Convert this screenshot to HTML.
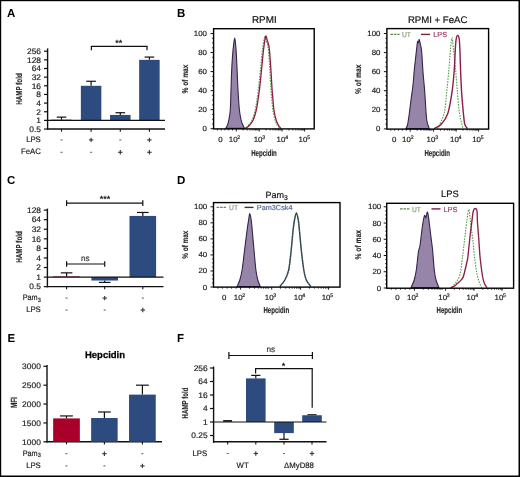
<!DOCTYPE html>
<html><head><meta charset="utf-8"><style>
html,body{margin:0;padding:0;background:#fff;}
svg{display:block;font-family:"Liberation Sans", sans-serif;will-change:transform;text-rendering:geometricPrecision;}
</style></head><body>
<svg width="520" height="477" viewBox="0 0 520 477">
<rect x="0" y="0" width="520" height="477" fill="#fff"/>
<rect x="0.00" y="0.00" width="520.00" height="1.20" fill="#000"/>
<rect x="0.00" y="0.00" width="1.20" height="477.00" fill="#000"/>
<rect x="518.50" y="0.00" width="1.50" height="477.00" fill="#000"/>
<rect x="0.00" y="475.50" width="520.00" height="1.50" fill="#000"/>
<text transform="translate(7.00,17.10)" font-size="11.5" text-anchor="start" font-weight="bold" fill="#000" >A</text>
<text transform="translate(177.00,17.10)" font-size="11.5" text-anchor="start" font-weight="bold" fill="#000" >B</text>
<text transform="translate(7.00,184.10)" font-size="11.5" text-anchor="start" font-weight="bold" fill="#000" >C</text>
<text transform="translate(177.00,184.10)" font-size="11.5" text-anchor="start" font-weight="bold" fill="#000" >D</text>
<text transform="translate(7.60,341.90)" font-size="11.5" text-anchor="start" font-weight="bold" fill="#000" >E</text>
<text transform="translate(177.00,341.90)" font-size="11.5" text-anchor="start" font-weight="bold" fill="#000" >F</text>
<line x1="47.60" y1="48.40" x2="47.60" y2="129.65" stroke="#111" stroke-width="1.4" />
<line x1="47.00" y1="129.05" x2="165.00" y2="129.05" stroke="#111" stroke-width="1.4" />
<line x1="44.00" y1="51.20" x2="47.60" y2="51.20" stroke="#111" stroke-width="1.2" />
<text transform="translate(41.00,54.00) scale(1.050,1)" font-size="8.0" text-anchor="end" font-weight="normal" fill="#222" stroke="#222" stroke-width="0.18" >256</text>
<line x1="44.00" y1="59.85" x2="47.60" y2="59.85" stroke="#111" stroke-width="1.2" />
<text transform="translate(41.00,62.65) scale(1.050,1)" font-size="8.0" text-anchor="end" font-weight="normal" fill="#222" stroke="#222" stroke-width="0.18" >128</text>
<line x1="44.00" y1="68.50" x2="47.60" y2="68.50" stroke="#111" stroke-width="1.2" />
<text transform="translate(41.00,71.30) scale(1.050,1)" font-size="8.0" text-anchor="end" font-weight="normal" fill="#222" stroke="#222" stroke-width="0.18" >64</text>
<line x1="44.00" y1="77.15" x2="47.60" y2="77.15" stroke="#111" stroke-width="1.2" />
<text transform="translate(41.00,79.95) scale(1.050,1)" font-size="8.0" text-anchor="end" font-weight="normal" fill="#222" stroke="#222" stroke-width="0.18" >32</text>
<line x1="44.00" y1="85.80" x2="47.60" y2="85.80" stroke="#111" stroke-width="1.2" />
<text transform="translate(41.00,88.60) scale(1.050,1)" font-size="8.0" text-anchor="end" font-weight="normal" fill="#222" stroke="#222" stroke-width="0.18" >16</text>
<line x1="44.00" y1="94.45" x2="47.60" y2="94.45" stroke="#111" stroke-width="1.2" />
<text transform="translate(41.00,97.25) scale(1.050,1)" font-size="8.0" text-anchor="end" font-weight="normal" fill="#222" stroke="#222" stroke-width="0.18" >8</text>
<line x1="44.00" y1="103.10" x2="47.60" y2="103.10" stroke="#111" stroke-width="1.2" />
<text transform="translate(41.00,105.90) scale(1.050,1)" font-size="8.0" text-anchor="end" font-weight="normal" fill="#222" stroke="#222" stroke-width="0.18" >4</text>
<line x1="44.00" y1="111.75" x2="47.60" y2="111.75" stroke="#111" stroke-width="1.2" />
<text transform="translate(41.00,114.55) scale(1.050,1)" font-size="8.0" text-anchor="end" font-weight="normal" fill="#222" stroke="#222" stroke-width="0.18" >2</text>
<line x1="44.00" y1="120.40" x2="47.60" y2="120.40" stroke="#111" stroke-width="1.2" />
<text transform="translate(41.00,123.20) scale(1.050,1)" font-size="8.0" text-anchor="end" font-weight="normal" fill="#222" stroke="#222" stroke-width="0.18" >1</text>
<line x1="44.00" y1="129.05" x2="47.60" y2="129.05" stroke="#111" stroke-width="1.2" />
<text transform="translate(41.00,131.85) scale(1.050,1)" font-size="8.0" text-anchor="end" font-weight="normal" fill="#222" stroke="#222" stroke-width="0.18" >0.5</text>
<line x1="61.50" y1="119.67" x2="61.50" y2="117.13" stroke="#111" stroke-width="1.2" />
<line x1="56.70" y1="117.13" x2="66.30" y2="117.13" stroke="#111" stroke-width="1.2" />
<rect x="51.25" y="119.67" width="20.50" height="0.73" fill="#a8002a"/>
<line x1="91.10" y1="85.80" x2="91.10" y2="81.27" stroke="#111" stroke-width="1.2" />
<line x1="86.30" y1="81.27" x2="95.90" y2="81.27" stroke="#111" stroke-width="1.2" />
<rect x="80.85" y="85.80" width="20.50" height="34.60" fill="#2d4b7e"/>
<line x1="120.30" y1="114.93" x2="120.30" y2="112.72" stroke="#111" stroke-width="1.2" />
<line x1="115.50" y1="112.72" x2="125.10" y2="112.72" stroke="#111" stroke-width="1.2" />
<rect x="110.05" y="114.93" width="20.50" height="5.47" fill="#2d4b7e"/>
<line x1="149.40" y1="59.85" x2="149.40" y2="57.07" stroke="#111" stroke-width="1.2" />
<line x1="144.60" y1="57.07" x2="154.20" y2="57.07" stroke="#111" stroke-width="1.2" />
<rect x="139.15" y="59.85" width="20.50" height="60.55" fill="#2d4b7e"/>
<line x1="47.60" y1="120.40" x2="165.00" y2="120.40" stroke="#111" stroke-width="1.3" />
<line x1="90.80" y1="46.40" x2="147.60" y2="46.40" stroke="#111" stroke-width="1.2" />
<line x1="91.40" y1="46.40" x2="91.40" y2="50.30" stroke="#111" stroke-width="1.2" />
<line x1="147.00" y1="46.40" x2="147.00" y2="50.30" stroke="#111" stroke-width="1.2" />
<text transform="translate(118.70,46.20)" font-size="9.0" text-anchor="middle" font-weight="bold" fill="#222" >**</text>
<line x1="61.50" y1="129.05" x2="61.50" y2="131.65" stroke="#111" stroke-width="1.1" />
<line x1="91.10" y1="129.05" x2="91.10" y2="131.65" stroke="#111" stroke-width="1.1" />
<line x1="120.30" y1="129.05" x2="120.30" y2="131.65" stroke="#111" stroke-width="1.1" />
<line x1="149.40" y1="129.05" x2="149.40" y2="131.65" stroke="#111" stroke-width="1.1" />
<text transform="translate(40.80,141.90) scale(0.970,1)" font-size="8.0" text-anchor="end" font-weight="normal" fill="#222" stroke="#222" stroke-width="0.18" >LPS</text>
<text transform="translate(40.80,154.30) scale(0.970,1)" font-size="8.0" text-anchor="end" font-weight="normal" fill="#222" stroke="#222" stroke-width="0.18" >FeAC</text>
<line x1="60.50" y1="139.90" x2="62.50" y2="139.90" stroke="#666" stroke-width="1.1" />
<line x1="88.90" y1="139.90" x2="93.30" y2="139.90" stroke="#3a3a3a" stroke-width="1.15" />
<line x1="91.10" y1="137.70" x2="91.10" y2="142.10" stroke="#3a3a3a" stroke-width="1.15" />
<line x1="119.30" y1="139.90" x2="121.30" y2="139.90" stroke="#666" stroke-width="1.1" />
<line x1="147.20" y1="139.90" x2="151.60" y2="139.90" stroke="#3a3a3a" stroke-width="1.15" />
<line x1="149.40" y1="137.70" x2="149.40" y2="142.10" stroke="#3a3a3a" stroke-width="1.15" />
<line x1="60.50" y1="152.30" x2="62.50" y2="152.30" stroke="#666" stroke-width="1.1" />
<line x1="90.10" y1="152.30" x2="92.10" y2="152.30" stroke="#666" stroke-width="1.1" />
<line x1="118.10" y1="152.30" x2="122.50" y2="152.30" stroke="#3a3a3a" stroke-width="1.15" />
<line x1="120.30" y1="150.10" x2="120.30" y2="154.50" stroke="#3a3a3a" stroke-width="1.15" />
<line x1="147.20" y1="152.30" x2="151.60" y2="152.30" stroke="#3a3a3a" stroke-width="1.15" />
<line x1="149.40" y1="150.10" x2="149.40" y2="154.50" stroke="#3a3a3a" stroke-width="1.15" />
<text transform="translate(22.00,89.00) rotate(-90) scale(0.727,1)" font-size="8.6" text-anchor="middle" font-weight="bold" fill="#222" stroke="#222" stroke-width="0.12" >HAMP fold</text>
<line x1="47.40" y1="208.61" x2="47.40" y2="287.27" stroke="#111" stroke-width="1.4" />
<line x1="46.80" y1="286.67" x2="163.50" y2="286.67" stroke="#111" stroke-width="1.4" />
<line x1="43.80" y1="210.11" x2="47.40" y2="210.11" stroke="#111" stroke-width="1.2" />
<text transform="translate(41.00,212.91) scale(1.050,1)" font-size="8.0" text-anchor="end" font-weight="normal" fill="#222" stroke="#222" stroke-width="0.18" >128</text>
<line x1="43.80" y1="219.68" x2="47.40" y2="219.68" stroke="#111" stroke-width="1.2" />
<text transform="translate(41.00,222.48) scale(1.050,1)" font-size="8.0" text-anchor="end" font-weight="normal" fill="#222" stroke="#222" stroke-width="0.18" >64</text>
<line x1="43.80" y1="229.25" x2="47.40" y2="229.25" stroke="#111" stroke-width="1.2" />
<text transform="translate(41.00,232.05) scale(1.050,1)" font-size="8.0" text-anchor="end" font-weight="normal" fill="#222" stroke="#222" stroke-width="0.18" >32</text>
<line x1="43.80" y1="238.82" x2="47.40" y2="238.82" stroke="#111" stroke-width="1.2" />
<text transform="translate(41.00,241.62) scale(1.050,1)" font-size="8.0" text-anchor="end" font-weight="normal" fill="#222" stroke="#222" stroke-width="0.18" >16</text>
<line x1="43.80" y1="248.39" x2="47.40" y2="248.39" stroke="#111" stroke-width="1.2" />
<text transform="translate(41.00,251.19) scale(1.050,1)" font-size="8.0" text-anchor="end" font-weight="normal" fill="#222" stroke="#222" stroke-width="0.18" >8</text>
<line x1="43.80" y1="257.96" x2="47.40" y2="257.96" stroke="#111" stroke-width="1.2" />
<text transform="translate(41.00,260.76) scale(1.050,1)" font-size="8.0" text-anchor="end" font-weight="normal" fill="#222" stroke="#222" stroke-width="0.18" >4</text>
<line x1="43.80" y1="267.53" x2="47.40" y2="267.53" stroke="#111" stroke-width="1.2" />
<text transform="translate(41.00,270.33) scale(1.050,1)" font-size="8.0" text-anchor="end" font-weight="normal" fill="#222" stroke="#222" stroke-width="0.18" >2</text>
<line x1="43.80" y1="277.10" x2="47.40" y2="277.10" stroke="#111" stroke-width="1.2" />
<text transform="translate(41.00,279.90) scale(1.050,1)" font-size="8.0" text-anchor="end" font-weight="normal" fill="#222" stroke="#222" stroke-width="0.18" >1</text>
<line x1="43.80" y1="286.67" x2="47.40" y2="286.67" stroke="#111" stroke-width="1.2" />
<text transform="translate(41.00,289.47) scale(1.050,1)" font-size="8.0" text-anchor="end" font-weight="normal" fill="#222" stroke="#222" stroke-width="0.18" >0.5</text>
<line x1="66.60" y1="276.43" x2="66.60" y2="272.85" stroke="#111" stroke-width="1.2" />
<line x1="60.80" y1="272.85" x2="72.40" y2="272.85" stroke="#111" stroke-width="1.2" />
<rect x="53.30" y="276.43" width="26.60" height="0.67" fill="#a8002a"/>
<line x1="104.70" y1="280.53" x2="104.70" y2="282.42" stroke="#111" stroke-width="1.2" />
<line x1="98.90" y1="282.42" x2="110.50" y2="282.42" stroke="#111" stroke-width="1.2" />
<rect x="91.40" y="277.10" width="26.60" height="3.43" fill="#2d4b7e"/>
<line x1="142.80" y1="215.93" x2="142.80" y2="212.46" stroke="#111" stroke-width="1.2" />
<line x1="137.00" y1="212.46" x2="148.60" y2="212.46" stroke="#111" stroke-width="1.2" />
<rect x="129.50" y="215.93" width="26.60" height="61.17" fill="#2d4b7e"/>
<line x1="47.40" y1="277.10" x2="163.50" y2="277.10" stroke="#111" stroke-width="1.3" />
<line x1="66.60" y1="203.10" x2="142.80" y2="203.10" stroke="#111" stroke-width="1.2" />
<line x1="66.60" y1="200.20" x2="66.60" y2="206.00" stroke="#111" stroke-width="1.2" />
<line x1="142.80" y1="200.20" x2="142.80" y2="206.00" stroke="#111" stroke-width="1.2" />
<text transform="translate(104.90,201.80)" font-size="9.0" text-anchor="middle" font-weight="bold" fill="#222" >***</text>
<line x1="66.60" y1="264.00" x2="104.70" y2="264.00" stroke="#111" stroke-width="1.2" />
<line x1="66.60" y1="261.30" x2="66.60" y2="266.70" stroke="#111" stroke-width="1.2" />
<line x1="104.70" y1="261.30" x2="104.70" y2="266.70" stroke="#111" stroke-width="1.2" />
<text transform="translate(85.30,260.60)" font-size="8.2" text-anchor="middle" font-weight="normal" fill="#333" stroke="#333" stroke-width="0.18" >ns</text>
<line x1="66.60" y1="286.67" x2="66.60" y2="289.27" stroke="#111" stroke-width="1.1" />
<line x1="104.70" y1="286.67" x2="104.70" y2="289.27" stroke="#111" stroke-width="1.1" />
<line x1="142.80" y1="286.67" x2="142.80" y2="289.27" stroke="#111" stroke-width="1.1" />
<text transform="translate(40.80,299.80) scale(0.910,1)" font-size="8.0" text-anchor="end" font-weight="normal" fill="#222" stroke="#222" stroke-width="0.18" >Pam<tspan font-size="6.2" dy="1.8">3</tspan></text>
<text transform="translate(40.80,312.00) scale(0.970,1)" font-size="8.0" text-anchor="end" font-weight="normal" fill="#222" stroke="#222" stroke-width="0.18" >LPS</text>
<line x1="65.60" y1="298.10" x2="67.60" y2="298.10" stroke="#666" stroke-width="1.1" />
<line x1="102.50" y1="298.10" x2="106.90" y2="298.10" stroke="#3a3a3a" stroke-width="1.15" />
<line x1="104.70" y1="295.90" x2="104.70" y2="300.30" stroke="#3a3a3a" stroke-width="1.15" />
<line x1="141.80" y1="298.10" x2="143.80" y2="298.10" stroke="#666" stroke-width="1.1" />
<line x1="65.60" y1="310.00" x2="67.60" y2="310.00" stroke="#666" stroke-width="1.1" />
<line x1="103.70" y1="310.00" x2="105.70" y2="310.00" stroke="#666" stroke-width="1.1" />
<line x1="140.60" y1="310.00" x2="145.00" y2="310.00" stroke="#3a3a3a" stroke-width="1.15" />
<line x1="142.80" y1="307.80" x2="142.80" y2="312.20" stroke="#3a3a3a" stroke-width="1.15" />
<text transform="translate(22.00,247.00) rotate(-90) scale(0.732,1)" font-size="8.6" text-anchor="middle" font-weight="bold" fill="#222" stroke="#222" stroke-width="0.12" >HAMP fold</text>
<line x1="47.00" y1="365.10" x2="47.00" y2="442.40" stroke="#111" stroke-width="1.4" />
<line x1="46.40" y1="441.80" x2="162.00" y2="441.80" stroke="#111" stroke-width="1.4" />
<line x1="43.40" y1="366.30" x2="47.00" y2="366.30" stroke="#111" stroke-width="1.2" />
<text transform="translate(40.80,369.10) scale(1.050,1)" font-size="8.0" text-anchor="end" font-weight="normal" fill="#222" stroke="#222" stroke-width="0.18" >3000</text>
<line x1="43.40" y1="385.18" x2="47.00" y2="385.18" stroke="#111" stroke-width="1.2" />
<text transform="translate(40.80,387.98) scale(1.050,1)" font-size="8.0" text-anchor="end" font-weight="normal" fill="#222" stroke="#222" stroke-width="0.18" >2500</text>
<line x1="43.40" y1="404.05" x2="47.00" y2="404.05" stroke="#111" stroke-width="1.2" />
<text transform="translate(40.80,406.85) scale(1.050,1)" font-size="8.0" text-anchor="end" font-weight="normal" fill="#222" stroke="#222" stroke-width="0.18" >2000</text>
<line x1="43.40" y1="422.93" x2="47.00" y2="422.93" stroke="#111" stroke-width="1.2" />
<text transform="translate(40.80,425.73) scale(1.050,1)" font-size="8.0" text-anchor="end" font-weight="normal" fill="#222" stroke="#222" stroke-width="0.18" >1500</text>
<line x1="43.40" y1="441.80" x2="47.00" y2="441.80" stroke="#111" stroke-width="1.2" />
<text transform="translate(40.80,444.60) scale(1.050,1)" font-size="8.0" text-anchor="end" font-weight="normal" fill="#222" stroke="#222" stroke-width="0.18" >1000</text>
<line x1="66.50" y1="418.40" x2="66.50" y2="415.94" stroke="#111" stroke-width="1.2" />
<line x1="60.10" y1="415.94" x2="72.90" y2="415.94" stroke="#111" stroke-width="1.2" />
<rect x="53.15" y="418.40" width="26.70" height="23.40" fill="#a8002a"/>
<line x1="104.40" y1="418.02" x2="104.40" y2="411.98" stroke="#111" stroke-width="1.2" />
<line x1="98.00" y1="411.98" x2="110.80" y2="411.98" stroke="#111" stroke-width="1.2" />
<rect x="91.15" y="418.02" width="26.50" height="23.78" fill="#2d4b7e"/>
<line x1="142.40" y1="394.61" x2="142.40" y2="385.18" stroke="#111" stroke-width="1.2" />
<line x1="136.00" y1="385.18" x2="148.80" y2="385.18" stroke="#111" stroke-width="1.2" />
<rect x="129.05" y="394.61" width="26.70" height="47.19" fill="#2d4b7e"/>
<line x1="66.50" y1="441.80" x2="66.50" y2="444.40" stroke="#111" stroke-width="1.1" />
<line x1="104.40" y1="441.80" x2="104.40" y2="444.40" stroke="#111" stroke-width="1.1" />
<line x1="142.40" y1="441.80" x2="142.40" y2="444.40" stroke="#111" stroke-width="1.1" />
<text transform="translate(105.00,358.00)" font-size="9.5" text-anchor="middle" font-weight="bold" fill="#000" stroke="#000" stroke-width="0.25" >Hepcidin</text>
<text transform="translate(40.80,455.60) scale(0.910,1)" font-size="8.0" text-anchor="end" font-weight="normal" fill="#222" stroke="#222" stroke-width="0.18" >Pam<tspan font-size="6.2" dy="1.8">3</tspan></text>
<text transform="translate(40.80,468.00) scale(0.970,1)" font-size="8.0" text-anchor="end" font-weight="normal" fill="#222" stroke="#222" stroke-width="0.18" >LPS</text>
<line x1="65.50" y1="453.70" x2="67.50" y2="453.70" stroke="#666" stroke-width="1.1" />
<line x1="102.20" y1="453.70" x2="106.60" y2="453.70" stroke="#3a3a3a" stroke-width="1.15" />
<line x1="104.40" y1="451.50" x2="104.40" y2="455.90" stroke="#3a3a3a" stroke-width="1.15" />
<line x1="141.40" y1="453.70" x2="143.40" y2="453.70" stroke="#666" stroke-width="1.1" />
<line x1="65.50" y1="465.90" x2="67.50" y2="465.90" stroke="#666" stroke-width="1.1" />
<line x1="103.40" y1="465.90" x2="105.40" y2="465.90" stroke="#666" stroke-width="1.1" />
<line x1="140.20" y1="465.90" x2="144.60" y2="465.90" stroke="#3a3a3a" stroke-width="1.15" />
<line x1="142.40" y1="463.70" x2="142.40" y2="468.10" stroke="#3a3a3a" stroke-width="1.15" />
<text transform="translate(16.84,402.60) rotate(-90) scale(0.710,1)" font-size="9.0" text-anchor="middle" font-weight="bold" fill="#222" stroke="#222" stroke-width="0.12" >MFI</text>
<line x1="213.60" y1="366.50" x2="213.60" y2="442.85" stroke="#111" stroke-width="1.4" />
<line x1="213.00" y1="441.80" x2="326.50" y2="441.80" stroke="#111" stroke-width="1.4" />
<line x1="210.00" y1="368.00" x2="213.60" y2="368.00" stroke="#111" stroke-width="1.2" />
<text transform="translate(207.70,370.80) scale(1.050,1)" font-size="8.0" text-anchor="end" font-weight="normal" fill="#222" stroke="#222" stroke-width="0.18" >256</text>
<line x1="210.00" y1="381.50" x2="213.60" y2="381.50" stroke="#111" stroke-width="1.2" />
<text transform="translate(207.70,384.30) scale(1.050,1)" font-size="8.0" text-anchor="end" font-weight="normal" fill="#222" stroke="#222" stroke-width="0.18" >64</text>
<line x1="210.00" y1="395.00" x2="213.60" y2="395.00" stroke="#111" stroke-width="1.2" />
<text transform="translate(207.70,397.80) scale(1.050,1)" font-size="8.0" text-anchor="end" font-weight="normal" fill="#222" stroke="#222" stroke-width="0.18" >16</text>
<line x1="210.00" y1="408.50" x2="213.60" y2="408.50" stroke="#111" stroke-width="1.2" />
<text transform="translate(207.70,411.30) scale(1.050,1)" font-size="8.0" text-anchor="end" font-weight="normal" fill="#222" stroke="#222" stroke-width="0.18" >4</text>
<line x1="210.00" y1="422.00" x2="213.60" y2="422.00" stroke="#111" stroke-width="1.2" />
<text transform="translate(207.70,424.80) scale(1.050,1)" font-size="8.0" text-anchor="end" font-weight="normal" fill="#222" stroke="#222" stroke-width="0.18" >1</text>
<line x1="210.00" y1="435.50" x2="213.60" y2="435.50" stroke="#111" stroke-width="1.2" />
<text transform="translate(207.70,438.30) scale(1.050,1)" font-size="8.0" text-anchor="end" font-weight="normal" fill="#222" stroke="#222" stroke-width="0.18" >0.25</text>
<rect x="223.20" y="420.90" width="9.00" height="1.10" fill="#2d4b7e"/>
<line x1="255.80" y1="378.40" x2="255.80" y2="375.38" stroke="#111" stroke-width="1.2" />
<line x1="251.20" y1="375.38" x2="260.40" y2="375.38" stroke="#111" stroke-width="1.2" />
<rect x="246.00" y="378.40" width="19.60" height="43.60" fill="#2d4b7e"/>
<line x1="284.00" y1="433.10" x2="284.00" y2="439.26" stroke="#111" stroke-width="1.2" />
<line x1="279.40" y1="439.26" x2="288.60" y2="439.26" stroke="#111" stroke-width="1.2" />
<rect x="274.20" y="422.00" width="19.60" height="11.10" fill="#2d4b7e"/>
<line x1="312.00" y1="415.25" x2="312.00" y2="414.77" stroke="#111" stroke-width="1.2" />
<line x1="307.40" y1="414.77" x2="316.60" y2="414.77" stroke="#111" stroke-width="1.2" />
<rect x="302.20" y="415.25" width="19.60" height="6.75" fill="#2d4b7e"/>
<line x1="213.60" y1="422.00" x2="326.50" y2="422.00" stroke="#111" stroke-width="1.2" />
<line x1="223.20" y1="420.60" x2="232.00" y2="420.60" stroke="#222" stroke-width="1.2" />
<line x1="228.90" y1="355.50" x2="312.40" y2="355.50" stroke="#111" stroke-width="1.2" />
<line x1="228.90" y1="352.10" x2="228.90" y2="358.90" stroke="#111" stroke-width="1.2" />
<line x1="312.40" y1="352.10" x2="312.40" y2="358.90" stroke="#111" stroke-width="1.2" />
<text transform="translate(270.80,352.20)" font-size="8.2" text-anchor="middle" font-weight="normal" fill="#333" stroke="#333" stroke-width="0.18" >ns</text>
<line x1="255.00" y1="368.60" x2="312.80" y2="368.60" stroke="#111" stroke-width="1.2" />
<line x1="255.60" y1="368.60" x2="255.60" y2="373.40" stroke="#111" stroke-width="1.2" />
<line x1="312.20" y1="368.60" x2="312.20" y2="407.70" stroke="#111" stroke-width="1.2" />
<text transform="translate(283.50,369.10)" font-size="9.0" text-anchor="middle" font-weight="bold" fill="#222" >*</text>
<line x1="227.70" y1="441.80" x2="227.70" y2="444.40" stroke="#111" stroke-width="1.1" />
<line x1="255.80" y1="441.80" x2="255.80" y2="444.40" stroke="#111" stroke-width="1.1" />
<line x1="284.00" y1="441.80" x2="284.00" y2="444.40" stroke="#111" stroke-width="1.1" />
<line x1="312.00" y1="441.80" x2="312.00" y2="444.40" stroke="#111" stroke-width="1.1" />
<text transform="translate(207.20,455.80) scale(0.970,1)" font-size="8.0" text-anchor="end" font-weight="normal" fill="#222" stroke="#222" stroke-width="0.18" >LPS</text>
<line x1="226.70" y1="453.50" x2="228.70" y2="453.50" stroke="#666" stroke-width="1.1" />
<line x1="253.60" y1="453.50" x2="258.00" y2="453.50" stroke="#3a3a3a" stroke-width="1.15" />
<line x1="255.80" y1="451.30" x2="255.80" y2="455.70" stroke="#3a3a3a" stroke-width="1.15" />
<line x1="283.00" y1="453.50" x2="285.00" y2="453.50" stroke="#666" stroke-width="1.1" />
<line x1="309.80" y1="453.50" x2="314.20" y2="453.50" stroke="#3a3a3a" stroke-width="1.15" />
<line x1="312.00" y1="451.30" x2="312.00" y2="455.70" stroke="#3a3a3a" stroke-width="1.15" />
<text transform="translate(242.60,467.50) scale(0.970,1)" font-size="8.0" text-anchor="middle" font-weight="normal" fill="#222" stroke="#222" stroke-width="0.18" >WT</text>
<text transform="translate(299.00,468.30) scale(0.970,1)" font-size="8.0" text-anchor="middle" font-weight="normal" fill="#222" stroke="#222" stroke-width="0.18" >&#916;MyD88</text>
<text transform="translate(187.60,403.00) rotate(-90) scale(0.711,1)" font-size="8.6" text-anchor="middle" font-weight="bold" fill="#222" stroke="#222" stroke-width="0.12" >HAMP fold</text>
<line x1="210.60" y1="128.70" x2="213.60" y2="128.70" stroke="#111" stroke-width="1.0" />
<text transform="translate(206.90,131.20) scale(1.050,1)" font-size="7.5" text-anchor="end" font-weight="normal" fill="#222" stroke="#222" stroke-width="0.18" >0</text>
<line x1="212.00" y1="123.94" x2="213.60" y2="123.94" stroke="#111" stroke-width="0.8" />
<line x1="212.00" y1="119.18" x2="213.60" y2="119.18" stroke="#111" stroke-width="0.8" />
<line x1="212.00" y1="114.42" x2="213.60" y2="114.42" stroke="#111" stroke-width="0.8" />
<line x1="210.60" y1="109.66" x2="213.60" y2="109.66" stroke="#111" stroke-width="1.0" />
<text transform="translate(206.90,112.16) scale(1.050,1)" font-size="7.5" text-anchor="end" font-weight="normal" fill="#222" stroke="#222" stroke-width="0.18" >20</text>
<line x1="212.00" y1="104.90" x2="213.60" y2="104.90" stroke="#111" stroke-width="0.8" />
<line x1="212.00" y1="100.14" x2="213.60" y2="100.14" stroke="#111" stroke-width="0.8" />
<line x1="212.00" y1="95.38" x2="213.60" y2="95.38" stroke="#111" stroke-width="0.8" />
<line x1="210.60" y1="90.62" x2="213.60" y2="90.62" stroke="#111" stroke-width="1.0" />
<text transform="translate(206.90,93.12) scale(1.050,1)" font-size="7.5" text-anchor="end" font-weight="normal" fill="#222" stroke="#222" stroke-width="0.18" >40</text>
<line x1="212.00" y1="85.86" x2="213.60" y2="85.86" stroke="#111" stroke-width="0.8" />
<line x1="212.00" y1="81.10" x2="213.60" y2="81.10" stroke="#111" stroke-width="0.8" />
<line x1="212.00" y1="76.34" x2="213.60" y2="76.34" stroke="#111" stroke-width="0.8" />
<line x1="210.60" y1="71.58" x2="213.60" y2="71.58" stroke="#111" stroke-width="1.0" />
<text transform="translate(206.90,74.08) scale(1.050,1)" font-size="7.5" text-anchor="end" font-weight="normal" fill="#222" stroke="#222" stroke-width="0.18" >60</text>
<line x1="212.00" y1="66.82" x2="213.60" y2="66.82" stroke="#111" stroke-width="0.8" />
<line x1="212.00" y1="62.06" x2="213.60" y2="62.06" stroke="#111" stroke-width="0.8" />
<line x1="212.00" y1="57.30" x2="213.60" y2="57.30" stroke="#111" stroke-width="0.8" />
<line x1="210.60" y1="52.54" x2="213.60" y2="52.54" stroke="#111" stroke-width="1.0" />
<text transform="translate(206.90,55.04) scale(1.050,1)" font-size="7.5" text-anchor="end" font-weight="normal" fill="#222" stroke="#222" stroke-width="0.18" >80</text>
<line x1="212.00" y1="47.78" x2="213.60" y2="47.78" stroke="#111" stroke-width="0.8" />
<line x1="212.00" y1="43.02" x2="213.60" y2="43.02" stroke="#111" stroke-width="0.8" />
<line x1="212.00" y1="38.26" x2="213.60" y2="38.26" stroke="#111" stroke-width="0.8" />
<line x1="210.60" y1="33.50" x2="213.60" y2="33.50" stroke="#111" stroke-width="1.0" />
<text transform="translate(206.90,36.00) scale(1.050,1)" font-size="7.5" text-anchor="end" font-weight="normal" fill="#222" stroke="#222" stroke-width="0.18" >100</text>
<line x1="236.30" y1="128.90" x2="236.30" y2="131.50" stroke="#111" stroke-width="0.9" />
<line x1="259.30" y1="128.90" x2="259.30" y2="131.50" stroke="#111" stroke-width="0.9" />
<line x1="282.10" y1="128.90" x2="282.10" y2="131.50" stroke="#111" stroke-width="0.9" />
<line x1="304.60" y1="128.90" x2="304.60" y2="131.50" stroke="#111" stroke-width="0.9" />
<line x1="243.15" y1="128.90" x2="243.15" y2="130.50" stroke="#111" stroke-width="0.8" />
<line x1="247.16" y1="128.90" x2="247.16" y2="130.50" stroke="#111" stroke-width="0.8" />
<line x1="250.01" y1="128.90" x2="250.01" y2="130.50" stroke="#111" stroke-width="0.8" />
<line x1="252.21" y1="128.90" x2="252.21" y2="130.50" stroke="#111" stroke-width="0.8" />
<line x1="254.02" y1="128.90" x2="254.02" y2="130.50" stroke="#111" stroke-width="0.8" />
<line x1="255.54" y1="128.90" x2="255.54" y2="130.50" stroke="#111" stroke-width="0.8" />
<line x1="256.86" y1="128.90" x2="256.86" y2="130.50" stroke="#111" stroke-width="0.8" />
<line x1="258.02" y1="128.90" x2="258.02" y2="130.50" stroke="#111" stroke-width="0.8" />
<line x1="266.15" y1="128.90" x2="266.15" y2="130.50" stroke="#111" stroke-width="0.8" />
<line x1="270.16" y1="128.90" x2="270.16" y2="130.50" stroke="#111" stroke-width="0.8" />
<line x1="273.01" y1="128.90" x2="273.01" y2="130.50" stroke="#111" stroke-width="0.8" />
<line x1="275.21" y1="128.90" x2="275.21" y2="130.50" stroke="#111" stroke-width="0.8" />
<line x1="277.02" y1="128.90" x2="277.02" y2="130.50" stroke="#111" stroke-width="0.8" />
<line x1="278.54" y1="128.90" x2="278.54" y2="130.50" stroke="#111" stroke-width="0.8" />
<line x1="279.86" y1="128.90" x2="279.86" y2="130.50" stroke="#111" stroke-width="0.8" />
<line x1="281.02" y1="128.90" x2="281.02" y2="130.50" stroke="#111" stroke-width="0.8" />
<line x1="288.95" y1="128.90" x2="288.95" y2="130.50" stroke="#111" stroke-width="0.8" />
<line x1="292.96" y1="128.90" x2="292.96" y2="130.50" stroke="#111" stroke-width="0.8" />
<line x1="295.81" y1="128.90" x2="295.81" y2="130.50" stroke="#111" stroke-width="0.8" />
<line x1="298.01" y1="128.90" x2="298.01" y2="130.50" stroke="#111" stroke-width="0.8" />
<line x1="299.82" y1="128.90" x2="299.82" y2="130.50" stroke="#111" stroke-width="0.8" />
<line x1="301.34" y1="128.90" x2="301.34" y2="130.50" stroke="#111" stroke-width="0.8" />
<line x1="302.66" y1="128.90" x2="302.66" y2="130.50" stroke="#111" stroke-width="0.8" />
<line x1="303.82" y1="128.90" x2="303.82" y2="130.50" stroke="#111" stroke-width="0.8" />
<line x1="217.38" y1="128.90" x2="217.38" y2="130.50" stroke="#111" stroke-width="0.8" />
<line x1="221.17" y1="128.90" x2="221.17" y2="130.50" stroke="#111" stroke-width="0.8" />
<line x1="224.95" y1="128.90" x2="224.95" y2="130.50" stroke="#111" stroke-width="0.8" />
<line x1="228.73" y1="128.90" x2="228.73" y2="130.50" stroke="#111" stroke-width="0.8" />
<line x1="232.52" y1="128.90" x2="232.52" y2="130.50" stroke="#111" stroke-width="0.8" />
<text transform="translate(220.40,142.20) scale(1.050,1)" font-size="7.5" text-anchor="middle" font-weight="normal" fill="#222" stroke="#222" stroke-width="0.18" >0</text>
<text transform="translate(233.20,142.20) scale(1.050,1)" font-size="7.5" text-anchor="middle" font-weight="normal" fill="#222" stroke="#222" stroke-width="0.18" >10</text>
<text transform="translate(238.80,138.90)" font-size="5.2" text-anchor="middle" font-weight="normal" fill="#222" stroke="#222" stroke-width="0.18" >2</text>
<text transform="translate(258.10,142.20) scale(1.050,1)" font-size="7.5" text-anchor="middle" font-weight="normal" fill="#222" stroke="#222" stroke-width="0.18" >10</text>
<text transform="translate(263.70,138.90)" font-size="5.2" text-anchor="middle" font-weight="normal" fill="#222" stroke="#222" stroke-width="0.18" >3</text>
<text transform="translate(281.00,142.20) scale(1.050,1)" font-size="7.5" text-anchor="middle" font-weight="normal" fill="#222" stroke="#222" stroke-width="0.18" >10</text>
<text transform="translate(286.60,138.90)" font-size="5.2" text-anchor="middle" font-weight="normal" fill="#222" stroke="#222" stroke-width="0.18" >4</text>
<text transform="translate(303.00,142.20) scale(1.050,1)" font-size="7.5" text-anchor="middle" font-weight="normal" fill="#222" stroke="#222" stroke-width="0.18" >10</text>
<text transform="translate(308.60,138.90)" font-size="5.2" text-anchor="middle" font-weight="normal" fill="#222" stroke="#222" stroke-width="0.18" >5</text>
<text transform="translate(264.00,155.70) scale(0.690,1)" font-size="8.8" text-anchor="middle" font-weight="bold" fill="#222" stroke="#222" stroke-width="0.12" >Hepcidin</text>
<text transform="translate(187.72,79.00) rotate(-90) scale(0.786,1)" font-size="8.4" text-anchor="middle" font-weight="bold" fill="#222" stroke="#222" stroke-width="0.12" >% of max</text>
<text transform="translate(264.30,22.80)" font-size="9.9" text-anchor="middle" font-weight="normal" fill="#111" stroke="#111" stroke-width="0.18" >RPMI</text>
<path d="M225.70,128.40 C225.99,127.86 227.00,126.34 227.50,125.00 C228.00,123.66 228.35,122.40 228.80,120.00 C229.25,117.60 229.95,114.80 230.30,110.00 C230.65,105.20 230.79,96.08 231.00,90.00 C231.21,83.92 231.34,77.60 231.60,72.00 C231.86,66.40 232.26,59.48 232.60,55.00 C232.94,50.52 233.36,46.72 233.70,44.00 C234.04,41.28 234.40,38.00 234.70,38.00 C235.00,38.00 235.33,41.28 235.60,44.00 C235.87,46.72 236.14,50.52 236.40,55.00 C236.66,59.48 236.94,66.40 237.20,72.00 C237.46,77.60 237.65,83.92 238.00,90.00 C238.35,96.08 238.90,105.20 239.40,110.00 C239.90,114.80 240.54,117.60 241.10,120.00 C241.66,122.40 242.34,123.66 242.90,125.00 C243.46,126.34 244.33,127.86 244.60,128.40 Z" fill="#9684a9" stroke="#34254a" stroke-width="1.1" stroke-linejoin="round"/>
<path d="M243.40,128.40 C243.80,128.26 245.07,128.04 245.90,127.50 C246.73,126.96 247.61,126.20 248.60,125.00 C249.59,123.80 251.04,122.40 252.10,120.00 C253.16,117.60 254.43,113.20 255.20,110.00 C255.97,106.80 256.40,103.20 256.90,100.00 C257.40,96.80 257.90,93.20 258.30,90.00 C258.70,86.80 258.98,84.00 259.40,80.00 C259.82,76.00 260.42,69.80 260.90,65.00 C261.38,60.20 261.82,54.40 262.40,50.00 C262.98,45.60 263.88,38.94 264.50,37.50 C265.12,36.06 265.72,39.35 266.30,41.00 C266.88,42.65 267.59,43.96 268.10,47.80 C268.61,51.64 269.13,59.85 269.50,65.00 C269.87,70.15 270.16,76.00 270.40,80.00 C270.64,84.00 270.76,86.80 271.00,90.00 C271.24,93.20 271.61,96.80 271.90,100.00 C272.19,103.20 272.30,106.80 272.80,110.00 C273.30,113.20 274.30,117.60 275.00,120.00 C275.70,122.40 276.42,123.66 277.20,125.00 C277.98,126.34 279.47,127.86 279.90,128.40" fill="none" stroke="#5a9a45" stroke-width="1.1" stroke-linejoin="round" stroke-dasharray="1.6,1.2"/>
<path d="M244.50,128.40 C244.90,128.26 246.17,128.04 247.00,127.50 C247.83,126.96 248.71,126.20 249.70,125.00 C250.69,123.80 252.14,122.40 253.20,120.00 C254.26,117.60 255.53,113.20 256.30,110.00 C257.07,106.80 257.50,103.20 258.00,100.00 C258.50,96.80 259.00,93.20 259.40,90.00 C259.80,86.80 260.08,84.00 260.50,80.00 C260.92,76.00 261.52,69.80 262.00,65.00 C262.48,60.20 262.92,54.59 263.50,50.00 C264.08,45.41 264.98,37.74 265.60,36.30 C266.22,34.86 266.82,39.16 267.40,41.00 C267.98,42.84 268.69,43.96 269.20,47.80 C269.71,51.64 270.23,59.85 270.60,65.00 C270.97,70.15 271.26,76.00 271.50,80.00 C271.74,84.00 271.86,86.80 272.10,90.00 C272.34,93.20 272.71,96.80 273.00,100.00 C273.29,103.20 273.40,106.80 273.90,110.00 C274.40,113.20 275.40,117.60 276.10,120.00 C276.80,122.40 277.52,123.66 278.30,125.00 C279.08,126.34 280.57,127.86 281.00,128.40" fill="none" stroke="#8c1e48" stroke-width="1.3" stroke-linejoin="round"/>
<rect x="213.60" y="28.70" width="100.60" height="100.20" fill="none" stroke="#000" stroke-width="1.4"/>
<line x1="383.90" y1="128.90" x2="386.90" y2="128.90" stroke="#111" stroke-width="1.0" />
<text transform="translate(380.40,131.40) scale(1.050,1)" font-size="7.5" text-anchor="end" font-weight="normal" fill="#222" stroke="#222" stroke-width="0.18" >0</text>
<line x1="385.30" y1="124.13" x2="386.90" y2="124.13" stroke="#111" stroke-width="0.8" />
<line x1="385.30" y1="119.36" x2="386.90" y2="119.36" stroke="#111" stroke-width="0.8" />
<line x1="385.30" y1="114.59" x2="386.90" y2="114.59" stroke="#111" stroke-width="0.8" />
<line x1="383.90" y1="109.82" x2="386.90" y2="109.82" stroke="#111" stroke-width="1.0" />
<text transform="translate(380.40,112.32) scale(1.050,1)" font-size="7.5" text-anchor="end" font-weight="normal" fill="#222" stroke="#222" stroke-width="0.18" >20</text>
<line x1="385.30" y1="105.05" x2="386.90" y2="105.05" stroke="#111" stroke-width="0.8" />
<line x1="385.30" y1="100.28" x2="386.90" y2="100.28" stroke="#111" stroke-width="0.8" />
<line x1="385.30" y1="95.51" x2="386.90" y2="95.51" stroke="#111" stroke-width="0.8" />
<line x1="383.90" y1="90.74" x2="386.90" y2="90.74" stroke="#111" stroke-width="1.0" />
<text transform="translate(380.40,93.24) scale(1.050,1)" font-size="7.5" text-anchor="end" font-weight="normal" fill="#222" stroke="#222" stroke-width="0.18" >40</text>
<line x1="385.30" y1="85.97" x2="386.90" y2="85.97" stroke="#111" stroke-width="0.8" />
<line x1="385.30" y1="81.20" x2="386.90" y2="81.20" stroke="#111" stroke-width="0.8" />
<line x1="385.30" y1="76.43" x2="386.90" y2="76.43" stroke="#111" stroke-width="0.8" />
<line x1="383.90" y1="71.66" x2="386.90" y2="71.66" stroke="#111" stroke-width="1.0" />
<text transform="translate(380.40,74.16) scale(1.050,1)" font-size="7.5" text-anchor="end" font-weight="normal" fill="#222" stroke="#222" stroke-width="0.18" >60</text>
<line x1="385.30" y1="66.89" x2="386.90" y2="66.89" stroke="#111" stroke-width="0.8" />
<line x1="385.30" y1="62.12" x2="386.90" y2="62.12" stroke="#111" stroke-width="0.8" />
<line x1="385.30" y1="57.35" x2="386.90" y2="57.35" stroke="#111" stroke-width="0.8" />
<line x1="383.90" y1="52.58" x2="386.90" y2="52.58" stroke="#111" stroke-width="1.0" />
<text transform="translate(380.40,55.08) scale(1.050,1)" font-size="7.5" text-anchor="end" font-weight="normal" fill="#222" stroke="#222" stroke-width="0.18" >80</text>
<line x1="385.30" y1="47.81" x2="386.90" y2="47.81" stroke="#111" stroke-width="0.8" />
<line x1="385.30" y1="43.04" x2="386.90" y2="43.04" stroke="#111" stroke-width="0.8" />
<line x1="385.30" y1="38.27" x2="386.90" y2="38.27" stroke="#111" stroke-width="0.8" />
<line x1="383.90" y1="33.50" x2="386.90" y2="33.50" stroke="#111" stroke-width="1.0" />
<text transform="translate(380.40,36.00) scale(1.050,1)" font-size="7.5" text-anchor="end" font-weight="normal" fill="#222" stroke="#222" stroke-width="0.18" >100</text>
<line x1="410.20" y1="129.10" x2="410.20" y2="131.70" stroke="#111" stroke-width="0.9" />
<line x1="433.60" y1="129.10" x2="433.60" y2="131.70" stroke="#111" stroke-width="0.9" />
<line x1="456.20" y1="129.10" x2="456.20" y2="131.70" stroke="#111" stroke-width="0.9" />
<line x1="478.60" y1="129.10" x2="478.60" y2="131.70" stroke="#111" stroke-width="0.9" />
<line x1="417.06" y1="129.10" x2="417.06" y2="130.70" stroke="#111" stroke-width="0.8" />
<line x1="421.08" y1="129.10" x2="421.08" y2="130.70" stroke="#111" stroke-width="0.8" />
<line x1="423.93" y1="129.10" x2="423.93" y2="130.70" stroke="#111" stroke-width="0.8" />
<line x1="426.14" y1="129.10" x2="426.14" y2="130.70" stroke="#111" stroke-width="0.8" />
<line x1="427.94" y1="129.10" x2="427.94" y2="130.70" stroke="#111" stroke-width="0.8" />
<line x1="429.47" y1="129.10" x2="429.47" y2="130.70" stroke="#111" stroke-width="0.8" />
<line x1="430.79" y1="129.10" x2="430.79" y2="130.70" stroke="#111" stroke-width="0.8" />
<line x1="431.96" y1="129.10" x2="431.96" y2="130.70" stroke="#111" stroke-width="0.8" />
<line x1="440.46" y1="129.10" x2="440.46" y2="130.70" stroke="#111" stroke-width="0.8" />
<line x1="444.48" y1="129.10" x2="444.48" y2="130.70" stroke="#111" stroke-width="0.8" />
<line x1="447.33" y1="129.10" x2="447.33" y2="130.70" stroke="#111" stroke-width="0.8" />
<line x1="449.54" y1="129.10" x2="449.54" y2="130.70" stroke="#111" stroke-width="0.8" />
<line x1="451.34" y1="129.10" x2="451.34" y2="130.70" stroke="#111" stroke-width="0.8" />
<line x1="452.87" y1="129.10" x2="452.87" y2="130.70" stroke="#111" stroke-width="0.8" />
<line x1="454.19" y1="129.10" x2="454.19" y2="130.70" stroke="#111" stroke-width="0.8" />
<line x1="455.36" y1="129.10" x2="455.36" y2="130.70" stroke="#111" stroke-width="0.8" />
<line x1="463.06" y1="129.10" x2="463.06" y2="130.70" stroke="#111" stroke-width="0.8" />
<line x1="467.08" y1="129.10" x2="467.08" y2="130.70" stroke="#111" stroke-width="0.8" />
<line x1="469.93" y1="129.10" x2="469.93" y2="130.70" stroke="#111" stroke-width="0.8" />
<line x1="472.14" y1="129.10" x2="472.14" y2="130.70" stroke="#111" stroke-width="0.8" />
<line x1="473.94" y1="129.10" x2="473.94" y2="130.70" stroke="#111" stroke-width="0.8" />
<line x1="475.47" y1="129.10" x2="475.47" y2="130.70" stroke="#111" stroke-width="0.8" />
<line x1="476.79" y1="129.10" x2="476.79" y2="130.70" stroke="#111" stroke-width="0.8" />
<line x1="477.96" y1="129.10" x2="477.96" y2="130.70" stroke="#111" stroke-width="0.8" />
<line x1="390.78" y1="129.10" x2="390.78" y2="130.70" stroke="#111" stroke-width="0.8" />
<line x1="394.67" y1="129.10" x2="394.67" y2="130.70" stroke="#111" stroke-width="0.8" />
<line x1="398.55" y1="129.10" x2="398.55" y2="130.70" stroke="#111" stroke-width="0.8" />
<line x1="402.43" y1="129.10" x2="402.43" y2="130.70" stroke="#111" stroke-width="0.8" />
<line x1="406.32" y1="129.10" x2="406.32" y2="130.70" stroke="#111" stroke-width="0.8" />
<text transform="translate(394.20,142.20) scale(1.050,1)" font-size="7.5" text-anchor="middle" font-weight="normal" fill="#222" stroke="#222" stroke-width="0.18" >0</text>
<text transform="translate(406.50,142.20) scale(1.050,1)" font-size="7.5" text-anchor="middle" font-weight="normal" fill="#222" stroke="#222" stroke-width="0.18" >10</text>
<text transform="translate(412.10,138.90)" font-size="5.2" text-anchor="middle" font-weight="normal" fill="#222" stroke="#222" stroke-width="0.18" >2</text>
<text transform="translate(431.00,142.20) scale(1.050,1)" font-size="7.5" text-anchor="middle" font-weight="normal" fill="#222" stroke="#222" stroke-width="0.18" >10</text>
<text transform="translate(436.60,138.90)" font-size="5.2" text-anchor="middle" font-weight="normal" fill="#222" stroke="#222" stroke-width="0.18" >3</text>
<text transform="translate(454.40,142.20) scale(1.050,1)" font-size="7.5" text-anchor="middle" font-weight="normal" fill="#222" stroke="#222" stroke-width="0.18" >10</text>
<text transform="translate(460.00,138.90)" font-size="5.2" text-anchor="middle" font-weight="normal" fill="#222" stroke="#222" stroke-width="0.18" >4</text>
<text transform="translate(476.60,142.20) scale(1.050,1)" font-size="7.5" text-anchor="middle" font-weight="normal" fill="#222" stroke="#222" stroke-width="0.18" >10</text>
<text transform="translate(482.20,138.90)" font-size="5.2" text-anchor="middle" font-weight="normal" fill="#222" stroke="#222" stroke-width="0.18" >5</text>
<text transform="translate(437.20,155.70) scale(0.690,1)" font-size="8.8" text-anchor="middle" font-weight="bold" fill="#222" stroke="#222" stroke-width="0.12" >Hepcidin</text>
<text transform="translate(361.02,79.30) rotate(-90) scale(0.800,1)" font-size="8.4" text-anchor="middle" font-weight="bold" fill="#222" stroke="#222" stroke-width="0.12" >% of max</text>
<text transform="translate(437.60,22.70)" font-size="9.6" text-anchor="middle" font-weight="normal" fill="#111" stroke="#111" stroke-width="0.18" >RPMI + FeAC</text>
<path d="M405.90,128.60 C406.16,128.02 406.99,127.18 407.50,125.00 C408.01,122.82 408.54,119.00 409.10,115.00 C409.66,111.00 410.38,104.80 411.00,100.00 C411.62,95.20 412.47,89.80 413.00,85.00 C413.53,80.20 413.76,75.44 414.30,70.00 C414.84,64.56 415.87,55.56 416.40,51.00 C416.93,46.44 417.28,42.78 417.60,41.50 C417.92,40.22 418.13,43.34 418.40,43.00 C418.67,42.66 419.00,39.24 419.30,39.40 C419.60,39.56 419.93,42.14 420.30,44.00 C420.67,45.86 421.17,46.52 421.60,51.00 C422.03,55.48 422.57,66.30 423.00,72.00 C423.43,77.70 423.93,82.12 424.30,86.60 C424.67,91.08 425.03,95.94 425.30,100.00 C425.57,104.06 425.73,108.56 426.00,112.00 C426.27,115.44 426.49,118.84 427.00,121.50 C427.51,124.16 428.85,127.46 429.20,128.60 Z" fill="#9684a9" stroke="#34254a" stroke-width="1.1" stroke-linejoin="round"/>
<path d="M437.50,128.60 C438.56,126.18 442.63,119.34 444.10,113.50 C445.57,107.66 445.95,98.95 446.70,92.10 C447.45,85.25 448.19,77.53 448.80,70.70 C449.41,63.87 449.99,54.70 450.50,49.40 C451.01,44.10 451.52,37.60 452.00,37.60 C452.48,37.60 452.91,44.10 453.50,49.40 C454.09,54.70 455.08,63.87 455.70,70.70 C456.32,77.53 456.79,85.25 457.40,92.10 C458.01,98.95 458.60,107.66 459.50,113.50 C460.40,119.34 462.44,126.18 463.00,128.60" fill="none" stroke="#5a9a45" stroke-width="1.1" stroke-linejoin="round" stroke-dasharray="1.6,1.2"/>
<path d="M434.00,128.60 C435.17,127.90 439.09,126.62 441.30,124.20 C443.51,121.78 446.09,118.64 447.80,113.50 C449.51,108.36 450.98,98.95 452.00,92.10 C453.02,85.25 453.67,77.53 454.20,70.70 C454.73,63.87 454.98,54.47 455.30,49.40 C455.62,44.33 455.82,41.24 456.20,39.00 C456.58,36.76 457.22,35.40 457.70,35.40 C458.18,35.40 458.85,36.76 459.20,39.00 C459.55,41.24 459.68,44.33 459.90,49.40 C460.12,54.47 460.33,63.87 460.60,70.70 C460.87,77.53 461.15,85.25 461.60,92.10 C462.05,98.95 462.89,108.36 463.40,113.50 C463.91,118.64 464.14,121.78 464.80,124.20 C465.46,126.62 467.07,127.90 467.50,128.60" fill="none" stroke="#8c1e48" stroke-width="1.4" stroke-linejoin="round"/>
<rect x="386.90" y="28.60" width="101.70" height="100.50" fill="none" stroke="#000" stroke-width="1.4"/>
<line x1="390.40" y1="34.40" x2="399.60" y2="34.40" stroke="#5f8a4c" stroke-width="1.2" stroke-dasharray="2.6,0.9"/>
<text transform="translate(402.00,37.20) scale(0.920,1)" font-size="7.3" text-anchor="start" font-weight="normal" fill="#86a07a" stroke="#86a07a" stroke-width="0.18" >UT</text>
<line x1="421.00" y1="34.40" x2="430.10" y2="34.40" stroke="#7f1f42" stroke-width="1.4" />
<text transform="translate(433.20,37.20)" font-size="7.3" text-anchor="start" font-weight="normal" fill="#9a4066" stroke="#9a4066" stroke-width="0.18" >LPS</text>
<line x1="210.50" y1="287.00" x2="213.50" y2="287.00" stroke="#111" stroke-width="1.0" />
<text transform="translate(207.20,289.50) scale(1.050,1)" font-size="7.5" text-anchor="end" font-weight="normal" fill="#222" stroke="#222" stroke-width="0.18" >0</text>
<line x1="211.90" y1="282.99" x2="213.50" y2="282.99" stroke="#111" stroke-width="0.8" />
<line x1="211.90" y1="278.98" x2="213.50" y2="278.98" stroke="#111" stroke-width="0.8" />
<line x1="211.90" y1="274.97" x2="213.50" y2="274.97" stroke="#111" stroke-width="0.8" />
<line x1="210.50" y1="270.96" x2="213.50" y2="270.96" stroke="#111" stroke-width="1.0" />
<text transform="translate(207.20,273.46) scale(1.050,1)" font-size="7.5" text-anchor="end" font-weight="normal" fill="#222" stroke="#222" stroke-width="0.18" >20</text>
<line x1="211.90" y1="266.95" x2="213.50" y2="266.95" stroke="#111" stroke-width="0.8" />
<line x1="211.90" y1="262.94" x2="213.50" y2="262.94" stroke="#111" stroke-width="0.8" />
<line x1="211.90" y1="258.93" x2="213.50" y2="258.93" stroke="#111" stroke-width="0.8" />
<line x1="210.50" y1="254.92" x2="213.50" y2="254.92" stroke="#111" stroke-width="1.0" />
<text transform="translate(207.20,257.42) scale(1.050,1)" font-size="7.5" text-anchor="end" font-weight="normal" fill="#222" stroke="#222" stroke-width="0.18" >40</text>
<line x1="211.90" y1="250.91" x2="213.50" y2="250.91" stroke="#111" stroke-width="0.8" />
<line x1="211.90" y1="246.90" x2="213.50" y2="246.90" stroke="#111" stroke-width="0.8" />
<line x1="211.90" y1="242.89" x2="213.50" y2="242.89" stroke="#111" stroke-width="0.8" />
<line x1="210.50" y1="238.88" x2="213.50" y2="238.88" stroke="#111" stroke-width="1.0" />
<text transform="translate(207.20,241.38) scale(1.050,1)" font-size="7.5" text-anchor="end" font-weight="normal" fill="#222" stroke="#222" stroke-width="0.18" >60</text>
<line x1="211.90" y1="234.87" x2="213.50" y2="234.87" stroke="#111" stroke-width="0.8" />
<line x1="211.90" y1="230.86" x2="213.50" y2="230.86" stroke="#111" stroke-width="0.8" />
<line x1="211.90" y1="226.85" x2="213.50" y2="226.85" stroke="#111" stroke-width="0.8" />
<line x1="210.50" y1="222.84" x2="213.50" y2="222.84" stroke="#111" stroke-width="1.0" />
<text transform="translate(207.20,225.34) scale(1.050,1)" font-size="7.5" text-anchor="end" font-weight="normal" fill="#222" stroke="#222" stroke-width="0.18" >80</text>
<line x1="211.90" y1="218.83" x2="213.50" y2="218.83" stroke="#111" stroke-width="0.8" />
<line x1="211.90" y1="214.82" x2="213.50" y2="214.82" stroke="#111" stroke-width="0.8" />
<line x1="211.90" y1="210.81" x2="213.50" y2="210.81" stroke="#111" stroke-width="0.8" />
<line x1="210.50" y1="206.80" x2="213.50" y2="206.80" stroke="#111" stroke-width="1.0" />
<text transform="translate(207.20,209.30) scale(1.050,1)" font-size="7.5" text-anchor="end" font-weight="normal" fill="#222" stroke="#222" stroke-width="0.18" >100</text>
<line x1="240.60" y1="287.10" x2="240.60" y2="289.70" stroke="#111" stroke-width="0.9" />
<line x1="271.70" y1="287.10" x2="271.70" y2="289.70" stroke="#111" stroke-width="0.9" />
<line x1="300.60" y1="287.10" x2="300.60" y2="289.70" stroke="#111" stroke-width="0.9" />
<line x1="328.60" y1="287.10" x2="328.60" y2="289.70" stroke="#111" stroke-width="0.9" />
<line x1="249.43" y1="287.10" x2="249.43" y2="288.70" stroke="#111" stroke-width="0.8" />
<line x1="254.60" y1="287.10" x2="254.60" y2="288.70" stroke="#111" stroke-width="0.8" />
<line x1="258.26" y1="287.10" x2="258.26" y2="288.70" stroke="#111" stroke-width="0.8" />
<line x1="261.10" y1="287.10" x2="261.10" y2="288.70" stroke="#111" stroke-width="0.8" />
<line x1="263.43" y1="287.10" x2="263.43" y2="288.70" stroke="#111" stroke-width="0.8" />
<line x1="265.39" y1="287.10" x2="265.39" y2="288.70" stroke="#111" stroke-width="0.8" />
<line x1="267.09" y1="287.10" x2="267.09" y2="288.70" stroke="#111" stroke-width="0.8" />
<line x1="268.59" y1="287.10" x2="268.59" y2="288.70" stroke="#111" stroke-width="0.8" />
<line x1="280.53" y1="287.10" x2="280.53" y2="288.70" stroke="#111" stroke-width="0.8" />
<line x1="285.70" y1="287.10" x2="285.70" y2="288.70" stroke="#111" stroke-width="0.8" />
<line x1="289.36" y1="287.10" x2="289.36" y2="288.70" stroke="#111" stroke-width="0.8" />
<line x1="292.20" y1="287.10" x2="292.20" y2="288.70" stroke="#111" stroke-width="0.8" />
<line x1="294.53" y1="287.10" x2="294.53" y2="288.70" stroke="#111" stroke-width="0.8" />
<line x1="296.49" y1="287.10" x2="296.49" y2="288.70" stroke="#111" stroke-width="0.8" />
<line x1="298.19" y1="287.10" x2="298.19" y2="288.70" stroke="#111" stroke-width="0.8" />
<line x1="299.69" y1="287.10" x2="299.69" y2="288.70" stroke="#111" stroke-width="0.8" />
<line x1="309.43" y1="287.10" x2="309.43" y2="288.70" stroke="#111" stroke-width="0.8" />
<line x1="314.60" y1="287.10" x2="314.60" y2="288.70" stroke="#111" stroke-width="0.8" />
<line x1="318.26" y1="287.10" x2="318.26" y2="288.70" stroke="#111" stroke-width="0.8" />
<line x1="321.10" y1="287.10" x2="321.10" y2="288.70" stroke="#111" stroke-width="0.8" />
<line x1="323.43" y1="287.10" x2="323.43" y2="288.70" stroke="#111" stroke-width="0.8" />
<line x1="325.39" y1="287.10" x2="325.39" y2="288.70" stroke="#111" stroke-width="0.8" />
<line x1="327.09" y1="287.10" x2="327.09" y2="288.70" stroke="#111" stroke-width="0.8" />
<line x1="328.59" y1="287.10" x2="328.59" y2="288.70" stroke="#111" stroke-width="0.8" />
<line x1="218.02" y1="287.10" x2="218.02" y2="288.70" stroke="#111" stroke-width="0.8" />
<line x1="222.53" y1="287.10" x2="222.53" y2="288.70" stroke="#111" stroke-width="0.8" />
<line x1="227.05" y1="287.10" x2="227.05" y2="288.70" stroke="#111" stroke-width="0.8" />
<line x1="231.57" y1="287.10" x2="231.57" y2="288.70" stroke="#111" stroke-width="0.8" />
<line x1="236.08" y1="287.10" x2="236.08" y2="288.70" stroke="#111" stroke-width="0.8" />
<text transform="translate(224.30,300.40) scale(1.050,1)" font-size="7.5" text-anchor="middle" font-weight="normal" fill="#222" stroke="#222" stroke-width="0.18" >0</text>
<text transform="translate(238.20,300.40) scale(1.050,1)" font-size="7.5" text-anchor="middle" font-weight="normal" fill="#222" stroke="#222" stroke-width="0.18" >10</text>
<text transform="translate(243.80,297.10)" font-size="5.2" text-anchor="middle" font-weight="normal" fill="#222" stroke="#222" stroke-width="0.18" >2</text>
<text transform="translate(269.20,300.40) scale(1.050,1)" font-size="7.5" text-anchor="middle" font-weight="normal" fill="#222" stroke="#222" stroke-width="0.18" >10</text>
<text transform="translate(274.80,297.10)" font-size="5.2" text-anchor="middle" font-weight="normal" fill="#222" stroke="#222" stroke-width="0.18" >3</text>
<text transform="translate(298.20,300.40) scale(1.050,1)" font-size="7.5" text-anchor="middle" font-weight="normal" fill="#222" stroke="#222" stroke-width="0.18" >10</text>
<text transform="translate(303.80,297.10)" font-size="5.2" text-anchor="middle" font-weight="normal" fill="#222" stroke="#222" stroke-width="0.18" >4</text>
<text transform="translate(326.10,300.40) scale(1.050,1)" font-size="7.5" text-anchor="middle" font-weight="normal" fill="#222" stroke="#222" stroke-width="0.18" >10</text>
<text transform="translate(331.70,297.10)" font-size="5.2" text-anchor="middle" font-weight="normal" fill="#222" stroke="#222" stroke-width="0.18" >5</text>
<text transform="translate(276.30,312.80) scale(0.690,1)" font-size="8.8" text-anchor="middle" font-weight="bold" fill="#222" stroke="#222" stroke-width="0.12" >Hepcidin</text>
<text transform="translate(187.62,244.70) rotate(-90) scale(0.759,1)" font-size="8.4" text-anchor="middle" font-weight="bold" fill="#222" stroke="#222" stroke-width="0.12" >% of max</text>
<text transform="translate(276.60,197.80)" font-size="9.0" text-anchor="middle" font-weight="normal" fill="#111" stroke="#111" stroke-width="0.18" >Pam<tspan font-size="6.8" dy="2.4">3</tspan></text>
<path d="M237.00,286.50 C237.45,285.46 238.98,282.64 239.80,280.00 C240.62,277.36 241.33,274.80 242.10,270.00 C242.87,265.20 243.80,256.40 244.60,250.00 C245.40,243.60 246.46,234.80 247.10,230.00 C247.74,225.20 248.17,222.62 248.60,220.00 C249.03,217.38 249.38,213.60 249.80,213.60 C250.22,213.60 250.82,217.38 251.20,220.00 C251.58,222.62 251.75,225.20 252.20,230.00 C252.65,234.80 253.41,243.60 254.00,250.00 C254.59,256.40 255.29,265.20 255.90,270.00 C256.51,274.80 257.10,277.36 257.80,280.00 C258.50,282.64 259.90,285.46 260.30,286.50 Z" fill="#9684a9" stroke="#34254a" stroke-width="1.1" stroke-linejoin="round"/>
<path d="M279.80,286.50 C280.62,285.46 283.48,282.64 284.90,280.00 C286.32,277.36 287.69,274.80 288.70,270.00 C289.71,265.20 290.50,256.40 291.20,250.00 C291.90,243.60 292.57,234.80 293.10,230.00 C293.63,225.20 293.97,222.72 294.50,220.00 C295.03,217.28 295.79,213.00 296.40,213.00 C297.01,213.00 297.82,217.28 298.30,220.00 C298.78,222.72 298.92,225.20 299.40,230.00 C299.88,234.80 300.60,243.60 301.30,250.00 C302.00,256.40 303.00,265.20 303.80,270.00 C304.60,274.80 305.16,277.36 306.30,280.00 C307.44,282.64 310.16,285.46 310.90,286.50" fill="none" stroke="#27384f" stroke-width="1.45" stroke-linejoin="round"/>
<path d="M279.80,286.50 C280.62,285.46 283.48,282.64 284.90,280.00 C286.32,277.36 287.69,274.80 288.70,270.00 C289.71,265.20 290.50,256.40 291.20,250.00 C291.90,243.60 292.59,234.80 293.10,230.00 C293.61,225.20 293.90,222.96 294.40,220.00 C294.90,217.04 295.56,211.50 296.20,211.50 C296.84,211.50 297.89,217.04 298.40,220.00 C298.91,222.96 298.94,225.20 299.40,230.00 C299.86,234.80 300.60,243.60 301.30,250.00 C302.00,256.40 303.00,265.20 303.80,270.00 C304.60,274.80 305.16,277.36 306.30,280.00 C307.44,282.64 310.16,285.46 310.90,286.50" fill="none" stroke="#7fae68" stroke-width="0.55" stroke-linejoin="round" stroke-dasharray="1.1,1.7"/>
<rect x="213.50" y="202.60" width="126.50" height="84.50" fill="none" stroke="#000" stroke-width="1.4"/>
<line x1="216.60" y1="207.40" x2="226.00" y2="207.40" stroke="#5f8a4c" stroke-width="1.2" stroke-dasharray="2.6,0.9"/>
<text transform="translate(229.10,210.00) scale(0.920,1)" font-size="7.3" text-anchor="start" font-weight="normal" fill="#86a07a" stroke="#86a07a" stroke-width="0.18" >UT</text>
<line x1="244.60" y1="207.40" x2="253.50" y2="207.40" stroke="#2b3550" stroke-width="1.4" />
<text transform="translate(256.80,210.00)" font-size="7.3" text-anchor="start" font-weight="normal" fill="#5a6a95" stroke="#5a6a95" stroke-width="0.18" >Pam3Csk4</text>
<line x1="383.70" y1="288.00" x2="386.70" y2="288.00" stroke="#111" stroke-width="1.0" />
<text transform="translate(381.20,290.50) scale(1.050,1)" font-size="7.5" text-anchor="end" font-weight="normal" fill="#222" stroke="#222" stroke-width="0.18" >0</text>
<line x1="385.10" y1="283.94" x2="386.70" y2="283.94" stroke="#111" stroke-width="0.8" />
<line x1="385.10" y1="279.88" x2="386.70" y2="279.88" stroke="#111" stroke-width="0.8" />
<line x1="385.10" y1="275.82" x2="386.70" y2="275.82" stroke="#111" stroke-width="0.8" />
<line x1="383.70" y1="271.76" x2="386.70" y2="271.76" stroke="#111" stroke-width="1.0" />
<text transform="translate(381.20,274.26) scale(1.050,1)" font-size="7.5" text-anchor="end" font-weight="normal" fill="#222" stroke="#222" stroke-width="0.18" >20</text>
<line x1="385.10" y1="267.70" x2="386.70" y2="267.70" stroke="#111" stroke-width="0.8" />
<line x1="385.10" y1="263.64" x2="386.70" y2="263.64" stroke="#111" stroke-width="0.8" />
<line x1="385.10" y1="259.58" x2="386.70" y2="259.58" stroke="#111" stroke-width="0.8" />
<line x1="383.70" y1="255.52" x2="386.70" y2="255.52" stroke="#111" stroke-width="1.0" />
<text transform="translate(381.20,258.02) scale(1.050,1)" font-size="7.5" text-anchor="end" font-weight="normal" fill="#222" stroke="#222" stroke-width="0.18" >40</text>
<line x1="385.10" y1="251.46" x2="386.70" y2="251.46" stroke="#111" stroke-width="0.8" />
<line x1="385.10" y1="247.40" x2="386.70" y2="247.40" stroke="#111" stroke-width="0.8" />
<line x1="385.10" y1="243.34" x2="386.70" y2="243.34" stroke="#111" stroke-width="0.8" />
<line x1="383.70" y1="239.28" x2="386.70" y2="239.28" stroke="#111" stroke-width="1.0" />
<text transform="translate(381.20,241.78) scale(1.050,1)" font-size="7.5" text-anchor="end" font-weight="normal" fill="#222" stroke="#222" stroke-width="0.18" >60</text>
<line x1="385.10" y1="235.22" x2="386.70" y2="235.22" stroke="#111" stroke-width="0.8" />
<line x1="385.10" y1="231.16" x2="386.70" y2="231.16" stroke="#111" stroke-width="0.8" />
<line x1="385.10" y1="227.10" x2="386.70" y2="227.10" stroke="#111" stroke-width="0.8" />
<line x1="383.70" y1="223.04" x2="386.70" y2="223.04" stroke="#111" stroke-width="1.0" />
<text transform="translate(381.20,225.54) scale(1.050,1)" font-size="7.5" text-anchor="end" font-weight="normal" fill="#222" stroke="#222" stroke-width="0.18" >80</text>
<line x1="385.10" y1="218.98" x2="386.70" y2="218.98" stroke="#111" stroke-width="0.8" />
<line x1="385.10" y1="214.92" x2="386.70" y2="214.92" stroke="#111" stroke-width="0.8" />
<line x1="385.10" y1="210.86" x2="386.70" y2="210.86" stroke="#111" stroke-width="0.8" />
<line x1="383.70" y1="206.80" x2="386.70" y2="206.80" stroke="#111" stroke-width="1.0" />
<text transform="translate(381.20,209.30) scale(1.050,1)" font-size="7.5" text-anchor="end" font-weight="normal" fill="#222" stroke="#222" stroke-width="0.18" >100</text>
<line x1="414.40" y1="288.20" x2="414.40" y2="290.80" stroke="#111" stroke-width="0.9" />
<line x1="445.60" y1="288.20" x2="445.60" y2="290.80" stroke="#111" stroke-width="0.9" />
<line x1="474.00" y1="288.20" x2="474.00" y2="290.80" stroke="#111" stroke-width="0.9" />
<line x1="502.00" y1="288.20" x2="502.00" y2="290.80" stroke="#111" stroke-width="0.9" />
<line x1="423.19" y1="288.20" x2="423.19" y2="289.80" stroke="#111" stroke-width="0.8" />
<line x1="428.33" y1="288.20" x2="428.33" y2="289.80" stroke="#111" stroke-width="0.8" />
<line x1="431.98" y1="288.20" x2="431.98" y2="289.80" stroke="#111" stroke-width="0.8" />
<line x1="434.81" y1="288.20" x2="434.81" y2="289.80" stroke="#111" stroke-width="0.8" />
<line x1="437.12" y1="288.20" x2="437.12" y2="289.80" stroke="#111" stroke-width="0.8" />
<line x1="439.08" y1="288.20" x2="439.08" y2="289.80" stroke="#111" stroke-width="0.8" />
<line x1="440.77" y1="288.20" x2="440.77" y2="289.80" stroke="#111" stroke-width="0.8" />
<line x1="442.26" y1="288.20" x2="442.26" y2="289.80" stroke="#111" stroke-width="0.8" />
<line x1="454.39" y1="288.20" x2="454.39" y2="289.80" stroke="#111" stroke-width="0.8" />
<line x1="459.53" y1="288.20" x2="459.53" y2="289.80" stroke="#111" stroke-width="0.8" />
<line x1="463.18" y1="288.20" x2="463.18" y2="289.80" stroke="#111" stroke-width="0.8" />
<line x1="466.01" y1="288.20" x2="466.01" y2="289.80" stroke="#111" stroke-width="0.8" />
<line x1="468.32" y1="288.20" x2="468.32" y2="289.80" stroke="#111" stroke-width="0.8" />
<line x1="470.28" y1="288.20" x2="470.28" y2="289.80" stroke="#111" stroke-width="0.8" />
<line x1="471.97" y1="288.20" x2="471.97" y2="289.80" stroke="#111" stroke-width="0.8" />
<line x1="473.46" y1="288.20" x2="473.46" y2="289.80" stroke="#111" stroke-width="0.8" />
<line x1="482.79" y1="288.20" x2="482.79" y2="289.80" stroke="#111" stroke-width="0.8" />
<line x1="487.93" y1="288.20" x2="487.93" y2="289.80" stroke="#111" stroke-width="0.8" />
<line x1="491.58" y1="288.20" x2="491.58" y2="289.80" stroke="#111" stroke-width="0.8" />
<line x1="494.41" y1="288.20" x2="494.41" y2="289.80" stroke="#111" stroke-width="0.8" />
<line x1="496.72" y1="288.20" x2="496.72" y2="289.80" stroke="#111" stroke-width="0.8" />
<line x1="498.68" y1="288.20" x2="498.68" y2="289.80" stroke="#111" stroke-width="0.8" />
<line x1="500.37" y1="288.20" x2="500.37" y2="289.80" stroke="#111" stroke-width="0.8" />
<line x1="501.86" y1="288.20" x2="501.86" y2="289.80" stroke="#111" stroke-width="0.8" />
<line x1="391.32" y1="288.20" x2="391.32" y2="289.80" stroke="#111" stroke-width="0.8" />
<line x1="395.93" y1="288.20" x2="395.93" y2="289.80" stroke="#111" stroke-width="0.8" />
<line x1="400.55" y1="288.20" x2="400.55" y2="289.80" stroke="#111" stroke-width="0.8" />
<line x1="405.17" y1="288.20" x2="405.17" y2="289.80" stroke="#111" stroke-width="0.8" />
<line x1="409.78" y1="288.20" x2="409.78" y2="289.80" stroke="#111" stroke-width="0.8" />
<text transform="translate(397.50,300.40) scale(1.050,1)" font-size="7.5" text-anchor="middle" font-weight="normal" fill="#222" stroke="#222" stroke-width="0.18" >0</text>
<text transform="translate(411.40,300.40) scale(1.050,1)" font-size="7.5" text-anchor="middle" font-weight="normal" fill="#222" stroke="#222" stroke-width="0.18" >10</text>
<text transform="translate(417.00,297.10)" font-size="5.2" text-anchor="middle" font-weight="normal" fill="#222" stroke="#222" stroke-width="0.18" >2</text>
<text transform="translate(442.70,300.40) scale(1.050,1)" font-size="7.5" text-anchor="middle" font-weight="normal" fill="#222" stroke="#222" stroke-width="0.18" >10</text>
<text transform="translate(448.30,297.10)" font-size="5.2" text-anchor="middle" font-weight="normal" fill="#222" stroke="#222" stroke-width="0.18" >3</text>
<text transform="translate(471.00,300.40) scale(1.050,1)" font-size="7.5" text-anchor="middle" font-weight="normal" fill="#222" stroke="#222" stroke-width="0.18" >10</text>
<text transform="translate(476.60,297.10)" font-size="5.2" text-anchor="middle" font-weight="normal" fill="#222" stroke="#222" stroke-width="0.18" >4</text>
<text transform="translate(498.90,300.40) scale(1.050,1)" font-size="7.5" text-anchor="middle" font-weight="normal" fill="#222" stroke="#222" stroke-width="0.18" >10</text>
<text transform="translate(504.50,297.10)" font-size="5.2" text-anchor="middle" font-weight="normal" fill="#222" stroke="#222" stroke-width="0.18" >5</text>
<text transform="translate(449.40,313.20) scale(0.690,1)" font-size="8.8" text-anchor="middle" font-weight="bold" fill="#222" stroke="#222" stroke-width="0.12" >Hepcidin</text>
<text transform="translate(361.02,244.80) rotate(-90) scale(0.803,1)" font-size="8.4" text-anchor="middle" font-weight="bold" fill="#222" stroke="#222" stroke-width="0.12" >% of max</text>
<text transform="translate(449.80,197.30)" font-size="9.3" text-anchor="middle" font-weight="normal" fill="#111" stroke="#111" stroke-width="0.18" >LPS</text>
<path d="M411.00,287.60 C411.51,286.38 413.35,282.82 414.20,280.00 C415.05,277.18 415.63,274.48 416.30,270.00 C416.97,265.52 417.82,255.84 418.40,252.00 C418.98,248.16 419.44,248.72 419.90,246.00 C420.36,243.28 420.87,238.36 421.30,235.00 C421.73,231.64 422.20,227.72 422.60,225.00 C423.00,222.28 423.46,219.55 423.80,218.00 C424.14,216.45 424.36,215.36 424.70,215.30 C425.04,215.24 425.50,218.13 425.90,217.60 C426.30,217.07 426.83,212.42 427.20,212.00 C427.57,211.58 427.93,213.72 428.20,215.00 C428.47,216.28 428.60,217.60 428.90,220.00 C429.20,222.40 429.60,226.00 430.10,230.00 C430.60,234.00 431.60,241.80 432.00,245.00 C432.40,248.20 432.23,246.00 432.60,250.00 C432.97,254.00 433.76,265.20 434.30,270.00 C434.84,274.80 435.25,277.18 436.00,280.00 C436.75,282.82 438.52,286.38 439.00,287.60 Z" fill="#9684a9" stroke="#34254a" stroke-width="1.1" stroke-linejoin="round"/>
<path d="M452.00,287.60 C453.20,285.74 457.84,280.78 459.50,276.00 C461.16,271.22 461.58,263.54 462.40,257.70 C463.22,251.86 463.90,245.34 464.60,239.50 C465.30,233.66 466.13,226.02 466.80,221.20 C467.47,216.38 468.22,209.40 468.80,209.40 C469.38,209.40 469.76,216.38 470.40,221.20 C471.04,226.02 472.13,233.66 472.80,239.50 C473.47,245.34 473.86,251.86 474.60,257.70 C475.34,263.54 476.30,271.22 477.40,276.00 C478.50,280.78 480.84,285.74 481.50,287.60" fill="none" stroke="#5a9a45" stroke-width="1.1" stroke-linejoin="round" stroke-dasharray="1.6,1.2"/>
<path d="M450.50,287.60 C451.14,287.38 453.43,286.84 454.50,286.20 C455.57,285.56 456.22,284.50 457.20,283.60 C458.18,282.70 459.67,281.59 460.60,280.60 C461.53,279.61 462.36,278.78 463.00,277.40 C463.64,276.02 463.98,274.46 464.60,272.00 C465.22,269.54 466.39,264.29 466.90,262.00 C467.41,259.71 467.35,261.30 467.80,257.70 C468.25,254.10 469.04,245.34 469.70,239.50 C470.36,233.66 471.32,225.76 471.90,221.20 C472.48,216.64 472.77,213.03 473.30,211.00 C473.83,208.97 474.61,208.50 475.20,208.50 C475.79,208.50 476.65,208.97 477.00,211.00 C477.35,213.03 477.11,216.64 477.40,221.20 C477.69,225.76 478.37,233.66 478.80,239.50 C479.23,245.34 479.51,251.86 480.10,257.70 C480.69,263.54 481.83,271.90 482.50,276.00 C483.17,280.10 483.58,281.44 484.30,283.30 C485.02,285.16 486.57,286.91 487.00,287.60" fill="none" stroke="#8c1e48" stroke-width="1.35" stroke-linejoin="round"/>
<rect x="386.70" y="203.30" width="126.90" height="84.90" fill="none" stroke="#000" stroke-width="1.4"/>
<line x1="400.00" y1="208.90" x2="409.40" y2="208.90" stroke="#5f8a4c" stroke-width="1.2" stroke-dasharray="2.6,0.9"/>
<text transform="translate(412.00,211.60) scale(0.920,1)" font-size="7.3" text-anchor="start" font-weight="normal" fill="#86a07a" stroke="#86a07a" stroke-width="0.18" >UT</text>
<line x1="431.50" y1="208.90" x2="440.50" y2="208.90" stroke="#7f1f42" stroke-width="1.4" />
<text transform="translate(443.50,211.60)" font-size="7.3" text-anchor="start" font-weight="normal" fill="#9a4066" stroke="#9a4066" stroke-width="0.18" >LPS</text>
</svg></body></html>
